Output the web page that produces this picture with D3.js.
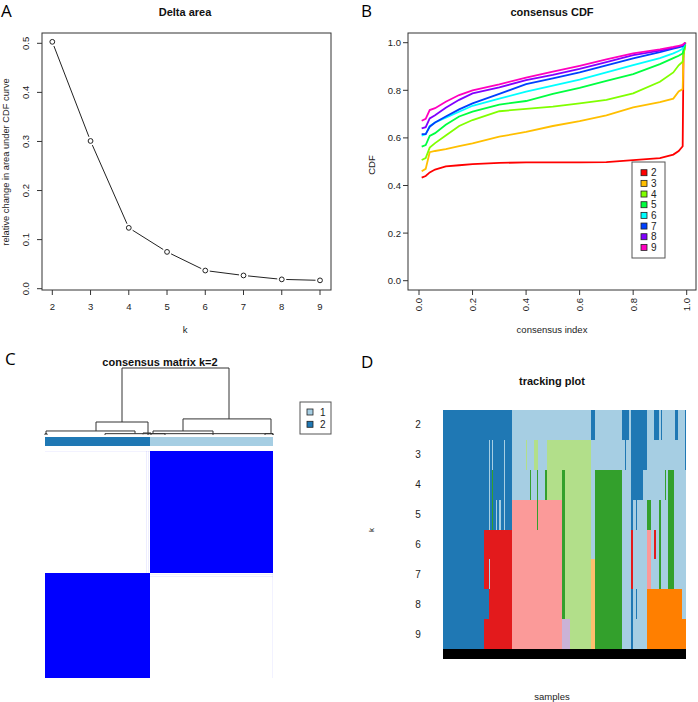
<!DOCTYPE html>
<html><head><meta charset="utf-8">
<script src="https://cdn.jsdelivr.net/npm/d3@7"></script>
<style>body{margin:0;background:#fff}svg{display:block}</style>
</head><body><svg id="c" width="698" height="702"></svg>
<script>
// ---------- DATA ----------
// Panel A
const deltaK = [2,3,4,5,6,7,8,9];
const deltaArea = [0.503,0.301,0.124,0.075,0.037,0.027,0.019,0.017];
const deltaYTicks = [0,0.1,0.2,0.3,0.4,0.5];
// Panel B
const cdfKs = [2,3,4,5,6,7,8,9];
const cdfColors = ["#FF0000","#FFBF00","#80FF00","#00FF40","#00FFFF","#0040FF","#8000FF","#FF00BF"];
const cdfX  = [0.01,0.025,0.04,0.06,0.1,0.15,0.2,0.3,0.4,0.5,0.6,0.7,0.8,0.9,0.95,0.97,0.985,0.988,0.995];
const cdfK2 = [0.433,0.44,0.455,0.467,0.48,0.485,0.49,0.495,0.497,0.497,0.497,0.498,0.507,0.515,0.53,0.545,0.565,0.95,1.0];
const cdfK3 = [0.46,0.47,0.54,0.545,0.553,0.565,0.577,0.605,0.625,0.65,0.67,0.695,0.728,0.75,0.765,0.795,0.805,0.95,1.0];
const cdfK4 = [0.507,0.515,0.559,0.578,0.61,0.65,0.675,0.712,0.722,0.731,0.745,0.76,0.787,0.836,0.875,0.905,0.92,0.95,0.99];
const cdfK5 = [0.563,0.57,0.608,0.62,0.655,0.69,0.71,0.74,0.755,0.785,0.81,0.84,0.868,0.91,0.935,0.945,0.955,0.97,0.995];
const cdfK6 = [0.61,0.615,0.65,0.665,0.685,0.71,0.735,0.765,0.794,0.82,0.845,0.875,0.906,0.935,0.955,0.965,0.975,0.985,0.998];
const cdfK7 = [0.616,0.616,0.647,0.665,0.69,0.72,0.745,0.785,0.826,0.85,0.875,0.905,0.934,0.96,0.975,0.98,0.985,0.99,1.0];
const cdfK8 = [0.64,0.645,0.682,0.695,0.727,0.76,0.787,0.812,0.843,0.865,0.89,0.918,0.948,0.967,0.978,0.984,0.99,0.993,1.0];
const cdfK9 = [0.672,0.68,0.717,0.725,0.752,0.78,0.8,0.825,0.853,0.878,0.903,0.93,0.955,0.972,0.982,0.987,0.991,0.995,1.0];
const cdfYTicks = [0,0.2,0.4,0.6,0.8,1.0];
const cdfXTicks = [0,0.2,0.4,0.6,0.8,1.0];
// Panel C
const clusterLabels = ["2","1"];           // column order: cluster 2 then cluster 1
const clusterSizes  = [105,123];
const clusterColors = {"1":"#A6CEE3","2":"#1F78B4"};
const legendC = ["1","2"];
// faint (ambiguous) samples: [sample index, consensus]
const faintSamples = [[101,0.07],[103,0.06],[227,0.05]];
// dendrogram merges: [leftCenter, rightCenter, height, leftChildHeight, rightChildHeight]
const merges = [
  [77,184,1.0,0.194,0.24],
  [51,103,0.194,0.06,0.03],
  [1,90,0.06,0.02,0.02],
  [98,106,0.03,0.01,0.0],
  [138,226,0.24,0.06,0.02],
  [108,168,0.06,0.02,0.0],
  [0,2,0.02,0,0],
  [60,120,0.02,0,0],
  [103,228,0.02,0,0],
  [220,228,0.02,0,0]
];
// Panel D
const trackKs = [2,3,4,5,6,7,8,9];
const trackColors = {"1":"#A6CEE3","2":"#1F78B4","3":"#B2DF8A","4":"#33A02C","5":"#FB9A99","6":"#E31A1C","7":"#FDBF6F","8":"#FF7F00","9":"#CAB2D6"};
// [number of samples, cluster per k=2..9]
const trackSegs = [
 [41,"22222222"],[5,"22226626"],[1,"21116166"],[2,"22226666"],[1,"21446666"],[3,"22226666"],
 [1,"22216666"],[2,"22226666"],[2,"22216666"],[3,"22226666"],[1,"21116666"],[7,"22226666"],
 [14,"11155555"],[1,"13155555"],[3,"11155555"],[1,"11455555"],[3,"11155555"],[3,"13155555"],
 [1,"13445555"],[7,"11155555"],[2,"11455555"],[15,"13355555"],[3,"13444449"],[5,"13333339"],
 [21,"13333333"],[4,"21111777"],[27,"11444444"],[3,"21111111"],[1,"22111111"],[3,"21111111"],
 [2,"11111111"],[2,"22226622"],[3,"22211111"],[1,"22221121"],[6,"22211111"],[4,"22111111"],
 [4,"11145588"],[3,"11111188"],[2,"21116188"],[3,"21111188"],[2,"11144488"],[1,"21111188"],
 [3,"11111188"],[1,"11411188"],[2,"11111188"],[6,"11444488"],[1,"11111188"],[3,"21111188"],
 [4,"11111188"],[3,"11111118"],[1,"22111118"]
];

// ---------- DRAW ----------
const svg = d3.select("#c");
const FONT = '"Liberation Sans", Arial, Helvetica, sans-serif';
const TXT = "#222";
function text(x,y,t,o={}){
  const e = svg.append("text").attr("x",x).attr("y",y).text(t)
    .attr("font-family",o.family||FONT).attr("font-size",o.size||9.5)
    .attr("fill",o.fill||TXT).attr("text-anchor",o.anchor||"middle");
  if(o.bold) e.attr("font-weight","bold");
  if(o.rot!==undefined) e.attr("transform",`rotate(${o.rot},${x},${y})`);
  return e;
}
const LET = {family:'"Open Sans","Liberation Sans",sans-serif',size:17,anchor:"start",fill:"#000"};
text(1,17,"A",LET); text(361,17,"B",LET); text(5,365,"C",LET); text(361,368,"D",LET);

// ---- Panel A ----
{
  const x = d3.scaleLinear().domain([2,9]).range([52.3,320]);
  const y = d3.scaleLinear().domain([0,0.5]).range([288.7,43.3]);
  svg.append("rect").attr("x",42).attr("y",33).attr("width",289).attr("height",257)
    .attr("fill","none").attr("stroke","#333").attr("stroke-width",1);
  text(185,16,"Delta area",{bold:true,size:11,fill:"#111"});
  deltaYTicks.forEach(v=>{
    svg.append("line").attr("x1",42).attr("x2",37).attr("y1",y(v)).attr("y2",y(v)).attr("stroke","#333");
    text(29,y(v),d3.format(".1f")(v),{rot:-90});
  });
  deltaK.forEach(k=>{
    svg.append("line").attr("x1",x(k)).attr("x2",x(k)).attr("y1",290).attr("y2",295).attr("stroke","#333");
    text(x(k),310,k);
  });
  text(185,333,"k");
  text(8.5,162,"relative change in area under CDF curve",{rot:-90,size:9.3});
  const pts = deltaK.map((k,i)=>[x(k),y(deltaArea[i])]);
  const gap = 4.5;
  for(let i=0;i<pts.length-1;i++){
    const [x1,y1]=pts[i],[x2,y2]=pts[i+1];
    const L=Math.hypot(x2-x1,y2-y1); if(L<2*gap) continue;
    const ux=(x2-x1)/L, uy=(y2-y1)/L;
    svg.append("line").attr("x1",x1+ux*gap).attr("y1",y1+uy*gap).attr("x2",x2-ux*gap).attr("y2",y2-uy*gap)
      .attr("stroke","#222").attr("stroke-width",1);
  }
  svg.selectAll(".pa").data(pts).enter().append("circle").attr("cx",d=>d[0]).attr("cy",d=>d[1])
    .attr("r",2.4).attr("fill","none").attr("stroke","#222").attr("stroke-width",1);
}

// ---- Panel B ----
{
  const x = d3.scaleLinear().domain([0,1]).range([419,686.7]);
  const y = d3.scaleLinear().domain([0,1]).range([280.7,42.7]);
  svg.append("rect").attr("x",408).attr("y",33).attr("width",288).attr("height",257)
    .attr("fill","none").attr("stroke","#333").attr("stroke-width",1);
  text(552,16,"consensus CDF",{bold:true,size:11,fill:"#111"});
  cdfYTicks.forEach(v=>{
    svg.append("line").attr("x1",408).attr("x2",403).attr("y1",y(v)).attr("y2",y(v)).attr("stroke","#333");
    text(401,y(v)+3.4,d3.format(".1f")(v),{anchor:"end"});
  });
  cdfXTicks.forEach(v=>{
    svg.append("line").attr("x1",x(v)).attr("x2",x(v)).attr("y1",290).attr("y2",295).attr("stroke","#333");
    text(x(v)+3.4,298,d3.format(".1f")(v),{anchor:"end",rot:-90});
  });
  text(552,333,"consensus index");
  text(375,165,"CDF",{rot:-90});
  const series = [cdfK2,cdfK3,cdfK4,cdfK5,cdfK6,cdfK7,cdfK8,cdfK9];
  const line = d3.line().x(d=>x(d[0])).y(d=>y(d[1]));
  series.forEach((s,i)=>{
    svg.append("path").attr("d",line(cdfX.map((v,j)=>[v,s[j]])))
      .attr("fill","none").attr("stroke",cdfColors[i]).attr("stroke-width",1.8);
  });
  svg.append("rect").attr("x",632).attr("y",162).attr("width",33).attr("height",96)
    .attr("fill","#fff").attr("stroke","#555").attr("stroke-width",1);
  cdfKs.forEach((k,i)=>{
    const cy = 172.7 + i*10.67;
    svg.append("rect").attr("x",641).attr("y",cy-3).attr("width",6).attr("height",6)
      .attr("fill",cdfColors[i]).attr("stroke","#222").attr("stroke-width",0.8);
    text(651,cy+3.5,k,{anchor:"start",size:10});
  });
}

// ---- Panel C ----
{
  const total = d3.sum(clusterSizes);
  const x = d3.scaleLinear().domain([0,total]).range([45,273]);
  const yR = d3.scaleLinear().domain([0,total]).range([678,451]);
  const hY = d3.scaleLinear().domain([0,1]).range([435,368]);
  const starts = clusterSizes.map((s,i)=>d3.sum(clusterSizes.slice(0,i)));
  const blue = d3.interpolateRgb("#ffffff","#0000FF");
  const g = svg.append("g").attr("shape-rendering","crispEdges");
  clusterSizes.forEach((si,i)=>{
    clusterSizes.forEach((sj,j)=>{
      const v = i===j?1:0;
      g.append("rect").attr("x",x(starts[j])).attr("width",x(starts[j]+sj)-x(starts[j]))
        .attr("y",yR(starts[i]+si)).attr("height",yR(starts[i])-yR(starts[i]+si))
        .attr("fill",blue(v));
    });
  });
  faintSamples.forEach(([idx,v])=>{
    g.append("rect").attr("x",x(idx)).attr("width",1).attr("y",451).attr("height",227)
      .attr("fill","#0000FF").attr("opacity",v);
    g.append("rect").attr("y",yR(idx+1)).attr("height",1).attr("x",45).attr("width",228)
      .attr("fill","#0000FF").attr("opacity",v);
  });
  clusterSizes.forEach((s,i)=>{
    g.append("rect").attr("x",x(starts[i])).attr("width",x(starts[i]+s)-x(starts[i]))
      .attr("y",437).attr("height",9).attr("fill",clusterColors[clusterLabels[i]]);
  });
  merges.forEach(([a,b,h,ha,hb])=>{
    svg.append("path").attr("d",`M${x(a)},${hY(ha)}V${hY(h)}H${x(b)}V${hY(hb)}`)
      .attr("fill","none").attr("stroke","#333").attr("stroke-width",1);
  });
  text(160,366,"consensus matrix k=2",{bold:true,size:11,fill:"#111"});
  svg.append("rect").attr("x",300).attr("y",402).attr("width",31).attr("height",32)
    .attr("fill","#fff").attr("stroke","#555");
  legendC.forEach((l,i)=>{
    const cy = 412 + i*12.3;
    svg.append("rect").attr("x",307).attr("y",cy-3).attr("width",6).attr("height",6)
      .attr("fill",clusterColors[l]).attr("stroke","#222").attr("stroke-width",0.8);
    text(320,cy+3.5,l,{anchor:"start",size:10});
  });
}

// ---- Panel D ----
{
  const total = d3.sum(trackSegs,d=>d[0]);
  const x = d3.scaleLinear().domain([0,total]).range([443,686]);
  const y = d3.scaleBand().domain(trackKs).range([410,649]);
  const g = svg.append("g").attr("shape-rendering","crispEdges");
  trackKs.forEach((k,i)=>{
    // merge consecutive samples with the same cluster into runs
    const runs = [];
    let pos = 0;
    trackSegs.forEach(([w,codes])=>{
      const c = codes[i];
      if(runs.length && runs[runs.length-1].c===c) runs[runs.length-1].e = pos+w;
      else runs.push({s:pos,e:pos+w,c});
      pos += w;
    });
    const y0 = Math.round(y(k)), y1 = Math.round(y(k)+y.bandwidth());
    runs.forEach(r=>{
      g.append("rect").attr("x",x(r.s)).attr("width",x(r.e)-x(r.s))
        .attr("y",y0).attr("height",y1-y0).attr("fill",trackColors[r.c]);
    });
  });
  g.append("rect").attr("x",x(0)).attr("width",x(total)-x(0)).attr("y",649).attr("height",10).attr("fill","#000");
  trackKs.forEach(k=> text(418,y(k)+y.bandwidth()/2+3.5,k,{size:10}));
  text(552,385,"tracking plot",{bold:true,size:11,fill:"#111"});
  text(374,530,"k",{rot:-90,size:8});
  text(552,700,"samples");
}
</script></body></html>
